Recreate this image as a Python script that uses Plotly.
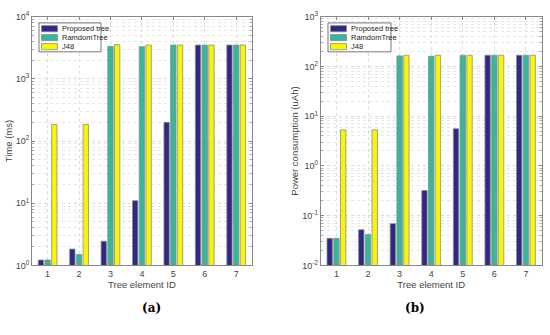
import plotly.graph_objects as go

categories = [1, 2, 3, 4, 5, 6, 7]
series_names = ["Proposed tree", "RamdomTree", "J48"]

# (a) Time (ms)
time_proposed = [1.22, 1.83, 2.45, 11.0, 200, 3500, 3500]
time_random = [1.22, 1.50, 3340, 3300, 3500, 3500, 3500]
time_j48 = [185, 185, 3550, 3500, 3500, 3500, 3500]

# (b) Power consumption (uAh)
power_proposed = [0.035, 0.052, 0.069, 0.32, 5.6, 168, 168]
power_random = [0.035, 0.042, 163, 160, 168, 168, 168]
power_j48 = [5.3, 5.3, 168, 168, 168, 168, 168]

colors = ["#2e2a84", "#35b79a", "#f8f50a"]
edge = "#8c8c8c"
font_fam = "Liberation Sans, Arial, sans-serif"
W, H = 550, 335

fig = go.Figure()

for name, vals, c in zip(series_names, [time_proposed, time_random, time_j48], colors):
    fig.add_trace(go.Bar(x=categories, y=vals, name=name, marker=dict(color=c, line=dict(color=edge, width=0.8)),
                         xaxis="x", yaxis="y", showlegend=False))
for name, vals, c in zip(series_names, [power_proposed, power_random, power_j48], colors):
    fig.add_trace(go.Bar(x=categories, y=vals, name=name, marker=dict(color=c, line=dict(color=edge, width=0.8)),
                         xaxis="x2", yaxis="y2", showlegend=False))

def sup(e):
    return f"10<sup>{e}</sup>"

axcommon = dict(showline=True, linecolor="#888", linewidth=0.8, mirror="ticks", ticks="inside",
                tickcolor="#888", ticklen=3, tickfont=dict(size=9, color="#444", family=font_fam),
                gridcolor="#dcdcdc", griddash="dot", gridwidth=0.8, zeroline=False)
minor = dict(dtick="D1", showgrid=True, gridcolor="#e6e6e6", griddash="dot", ticks="inside", ticklen=2, tickcolor="#aaa")

# Legend boxes drawn in paper coordinates (pixel positions / figure size)
shapes = []
annotations = []
def px(x):
    return x / W
def py(y):
    return 1 - y / H

for (bx0, bx1, sw0, sw1, tx) in [(39, 101, 41.5, 57.5, 60), (328, 391, 330.5, 346.5, 349)]:
    shapes.append(dict(type="rect", xref="paper", yref="paper", x0=px(bx0), x1=px(bx1), y0=py(46.5), y1=py(16.5),
                       line=dict(color="#555", width=0.8), fillcolor="white", layer="above"))
    for i, (name, c) in enumerate(zip(series_names, colors)):
        yc = 22.5 + i * 9.3
        shapes.append(dict(type="rect", xref="paper", yref="paper", x0=px(sw0), x1=px(sw1),
                           y0=py(yc + 3.2), y1=py(yc - 3.2), line=dict(color=edge, width=0.8), fillcolor=c, layer="above"))
        annotations.append(dict(text=name, x=px(tx), y=py(yc), xref="paper", yref="paper", xanchor="left", yanchor="middle",
                                showarrow=False, font=dict(size=7.5, color="#222", family=font_fam)))

annotations += [
    dict(text="<b>(a)</b>", x=0.255, y=0.04, xref="paper", yref="paper", showarrow=False,
         font=dict(family="DejaVu Serif, Liberation Serif, serif", size=12, color="#000")),
    dict(text="<b>(b)</b>", x=0.776, y=0.04, xref="paper", yref="paper", showarrow=False,
         font=dict(family="DejaVu Serif, Liberation Serif, serif", size=12, color="#000")),
]

fig.update_layout(
    width=W, height=H, margin=dict(l=0, r=0, t=0, b=0),
    paper_bgcolor="white", plot_bgcolor="white",
    barmode="group", bargap=0.36, bargroupgap=0.2,
    font=dict(family=font_fam, size=9, color="#444"),
    showlegend=False,
    xaxis=dict(domain=[0.058, 0.458], range=[0.5, 7.5], tickvals=categories, anchor="y",
               title=dict(text="Tree element ID", font=dict(size=9.5, color="#444"), standoff=3), **axcommon),
    yaxis=dict(domain=[0.2, 0.970], type="log", range=[0, 4], anchor="x",
               tickvals=[1, 10, 100, 1000, 10000], ticktext=[sup(i) for i in range(0, 5)],
               title=dict(text="Time (ms)", font=dict(size=9.5, color="#444"), standoff=1),
               minor=minor, **axcommon),
    xaxis2=dict(domain=[0.583, 0.985], range=[0.5, 7.5], tickvals=categories, anchor="y2",
                title=dict(text="Tree element ID", font=dict(size=9.5, color="#444"), standoff=3), **axcommon),
    yaxis2=dict(domain=[0.2, 0.970], type="log", range=[-2, 3], anchor="x2",
                tickvals=[0.01, 0.1, 1, 10, 100, 1000], ticktext=[sup(i) for i in range(-2, 4)],
                title=dict(text="Power consumption (uAh)", font=dict(size=9.5, color="#444"), standoff=1),
                minor=minor, **axcommon),
    shapes=shapes,
    annotations=annotations,
)

fig.write_html("out.html", config={"displayModeBar": False},
               post_script="document.body.style.margin='0';document.body.style.overflow='hidden';")
